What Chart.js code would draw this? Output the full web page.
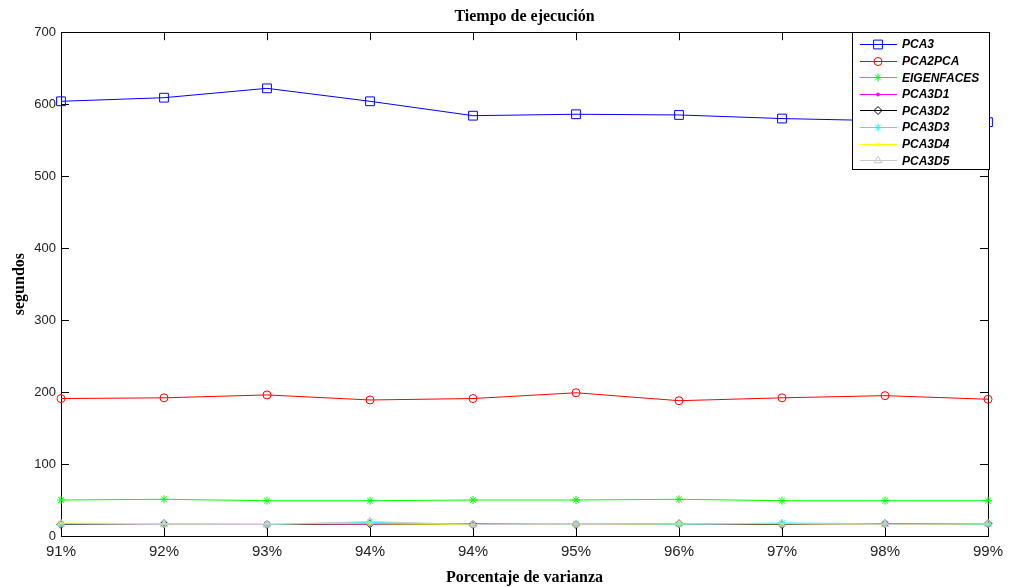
<!DOCTYPE html>
<html>
<head>
<meta charset="utf-8">
<script src="https://cdn.jsdelivr.net/npm/chart.js@4.4.1/dist/chart.umd.min.js"></script>
<style>
    body { margin: 0; background: #fff; }
</style>
</head>
<body>
<canvas id="tiempoChart" width="1012" height="587"></canvas>
<script>
// Tiempo de ejecucion por porcentaje de varianza
const porcentajes = ['91%', '92%', '93%', '94%', '94%', '95%', '96%', '97%', '98%', '99%'];
const yTicks = [0, 100, 200, 300, 400, 500, 600, 700];

const pca3       = [604, 609, 622, 604, 584, 586, 585, 580, 577, 575];
const pca2pca    = [191, 192, 196, 189, 191, 199, 188, 192, 195, 190];
const eigenfaces = [50, 51, 49, 49, 50, 50, 51, 49, 49, 49];
const pca3d1     = [16, 16, 16, 16, 17, 16, 16, 16, 16, 16];
const pca3d2     = [16, 17, 16, 17, 16, 16, 17, 16, 17, 17];
const pca3d3     = [17, 17, 16, 19, 16, 17, 16, 18, 17, 16];
const pca3d4     = [18, 17, 17, 17, 16, 16, 17, 17, 16, 17];
const pca3d5     = [17, 16, 16, 20, 16, 16, 17, 17, 16, 17];

const seriesNames = ['PCA3', 'PCA2PCA', 'EIGENFACES', 'PCA3D1', 'PCA3D2', 'PCA3D3', 'PCA3D4', 'PCA3D5'];
const seriesData = [pca3, pca2pca, eigenfaces, pca3d1, pca3d2, pca3d3, pca3d4, pca3d5];
const seriesColors = ['#0000ff', '#ff0000', '#00ff00', '#ff00ff', '#000000', '#00ffff', '#ffff00', '#c8c8c8'];
const seriesMarkers = [
    { style: 'rect', radius: 6.2, filled: false },
    { style: 'circle', radius: 4, filled: false },
    { style: 'star', radius: 4, filled: false },
    { style: 'circle', radius: 1.5, filled: true },
    { style: 'rectRot', radius: 4, filled: false },
    { style: 'star', radius: 4, filled: false },
    { style: 'crossRot', radius: 3.5, filled: false },
    { style: 'triangle', radius: 4.5, filled: false }
];

// MATLAB style box with inward ticks
const matlabAxes = {
    id: 'matlabAxes',
    beforeDatasetsDraw(chart) {
        const ctx = chart.ctx;
        const a = chart.chartArea;
        const xs = chart.scales.x, ys = chart.scales.y;
        const len = 8;
        ctx.save();
        ctx.lineWidth = 1;
        ctx.strokeStyle = '#000';
        ctx.beginPath();
        xs.ticks.forEach((t, i) => {
            const px = Math.round(xs.getPixelForTick(i)) + 0.5;
            ctx.moveTo(px, a.bottom);
            ctx.lineTo(px, a.bottom - len);
            ctx.moveTo(px, a.top);
            ctx.lineTo(px, a.top + len);
        });
        ys.ticks.forEach((t, i) => {
            const py = Math.round(ys.getPixelForTick(i)) + 0.5;
            ctx.moveTo(a.left, py);
            ctx.lineTo(a.left + len, py);
            ctx.moveTo(a.right, py);
            ctx.lineTo(a.right - len, py);
        });
        ctx.stroke();
        ctx.strokeStyle = '#000';
        ctx.strokeRect(Math.round(a.left) + 0.5, Math.round(a.top) + 0.5,
            Math.round(a.right - a.left), Math.round(a.bottom - a.top));
        ctx.restore();
    }
};

// Legend box in the upper right corner
const legendBox = {
    id: 'legendBox',
    afterDatasetsDraw(chart) {
        const ctx = chart.ctx;
        const a = chart.chartArea;
        const w = 137, h = 137;
        const x0 = Math.round(a.right) - 136, y0 = Math.round(a.top);
        ctx.save();
        ctx.fillStyle = '#fff';
        ctx.fillRect(x0, y0, w, h);
        ctx.lineWidth = 1;
        ctx.strokeStyle = '#000';
        ctx.strokeRect(x0 + 0.5, y0 + 0.5, w, h);
        ctx.font = 'italic bold 12px "Liberation Sans", Arial, sans-serif';
        ctx.textBaseline = 'middle';
        seriesNames.forEach((name, i) => {
            const y = y0 + 12 + i * 16.6;
            ctx.strokeStyle = seriesColors[i];
            ctx.beginPath();
            ctx.moveTo(x0 + 8, Math.round(y) + 0.5);
            ctx.lineTo(x0 + 45, Math.round(y) + 0.5);
            ctx.stroke();
            const m = seriesMarkers[i];
            ctx.fillStyle = m.filled ? seriesColors[i] : 'rgba(0,0,0,0)';
            Chart.helpers.drawPoint(ctx, {
                pointStyle: m.style, radius: m.radius, rotation: 0, borderWidth: 1
            }, x0 + 26, Math.round(y) + 0.5);
            ctx.fillStyle = '#000';
            ctx.fillText(name, x0 + 50, y + 1);
        });
        ctx.restore();
    }
};

const datasets = seriesNames.map((name, i) => ({
    label: name,
    data: seriesData[i],
    borderColor: seriesColors[i],
    borderWidth: 1,
    tension: 0,
    fill: false,
    clip: false,
    order: 20 - i,
    pointStyle: seriesMarkers[i].style,
    pointRadius: seriesMarkers[i].radius,
    pointBorderWidth: 1,
    pointBorderColor: seriesColors[i],
    pointBackgroundColor: seriesMarkers[i].filled ? seriesColors[i] : 'rgba(0,0,0,0)'
}));

const ctx = document.getElementById('tiempoChart').getContext('2d');
const chart = new Chart(ctx, {
    type: 'line',
    data: {
        labels: porcentajes,
        datasets: datasets
    },
    options: {
        responsive: false,
        animation: false,
        layout: {
            padding: { left: 0, right: 24, top: 0, bottom: 0 }
        },
        scales: {
            x: {
                type: 'category',
                offset: false,
                grid: { display: false, drawTicks: false },
                border: { display: false },
                ticks: {
                    autoSkip: false,
                    maxRotation: 0,
                    padding: 7,
                    color: '#222',
                    font: { family: '"Liberation Sans", Arial, sans-serif', size: 15 }
                },
                title: {
                    display: true,
                    text: 'Porcentaje de varianza',
                    color: '#000',
                    padding: { top: 2, bottom: 0 },
                    font: { family: '"Liberation Serif", "Times New Roman", serif', size: 16, weight: 'bold' }
                },
                afterFit(scale) { scale.height = 51; }
            },
            y: {
                min: 0,
                max: 700,
                grid: { display: false, drawTicks: false },
                border: { display: false },
                afterBuildTicks(scale) {
                    scale.ticks = yTicks.map(v => ({ value: v }));
                },
                ticks: {
                    padding: 5,
                    color: '#222',
                    font: { family: '"Liberation Sans", Arial, sans-serif', size: 13 }
                },
                title: {
                    display: true,
                    text: 'segundos',
                    color: '#000',
                    padding: { top: 10, bottom: 0 },
                    font: { family: '"Liberation Serif", "Times New Roman", serif', size: 16, weight: 'bold' }
                },
                afterFit(scale) { scale.width = 61; }
            }
        },
        plugins: {
            legend: { display: false },
            tooltip: { enabled: false },
            title: {
                display: true,
                fullSize: false,
                text: 'Tiempo de ejecución',
                color: '#000',
                padding: { top: 7, bottom: 6 },
                font: { family: '"Liberation Serif", "Times New Roman", serif', size: 16, weight: 'bold' }
            }
        }
    },
    plugins: [matlabAxes, legendBox]
});
</script>
</body>
</html>
